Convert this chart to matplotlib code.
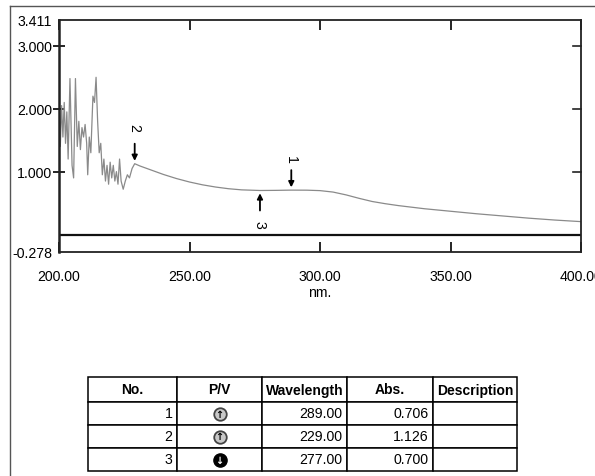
import matplotlib
matplotlib.use("Agg")
import matplotlib.pyplot as plt
from matplotlib import font_manager
from matplotlib.lines import Line2D

# scan 200-400 nm, noisy part below ~229 nm
wavelength = [200.0, 200.5, 201.0, 201.5, 202.0, 202.5, 203.0, 203.5, 204.2, 205.0,
              205.6, 206.3, 207.0, 207.6, 208.2, 208.8, 209.4, 210.0, 210.6, 211.0,
              211.6, 212.2, 213.0, 213.6, 214.2, 214.8, 215.4, 216.0, 216.6, 217.2,
              217.8, 218.4, 219.0, 219.6, 220.2, 220.8, 221.4, 222.0, 222.6, 223.2,
              223.8, 224.6, 225.4, 226.2, 227.0, 228.0, 229.0,
              231.0, 235.0, 240.0, 245.0, 250.0, 255.0, 260.0, 265.0, 270.0, 277.0,
              283.0, 289.0, 295.0, 300.0, 305.0, 310.0, 315.0, 320.0, 325.0, 330.0,
              335.0, 340.0, 345.0, 350.0, 360.0, 370.0, 380.0, 390.0, 400.0]
absorbance = [2.40, 1.40, 2.05, 1.55, 2.10, 1.45, 1.95, 1.20, 2.48, 1.10,
              0.90, 2.48, 1.40, 1.80, 1.35, 1.70, 1.55, 1.75, 1.45, 0.95,
              1.55, 1.30, 2.20, 2.10, 2.50, 1.80, 1.30, 1.45, 0.95, 1.20,
              0.85, 1.10, 0.80, 1.15, 0.90, 1.10, 0.85, 1.00, 0.80, 1.20,
              0.85, 0.72, 0.85, 0.95, 0.90, 1.05, 1.126,
              1.09, 1.03, 0.955, 0.89, 0.835, 0.79, 0.755, 0.728, 0.71, 0.700,
              0.702, 0.706, 0.705, 0.698, 0.675, 0.63, 0.575, 0.525, 0.49, 0.46,
              0.435, 0.41, 0.39, 0.37, 0.33, 0.295, 0.26, 0.23, 0.205]

# picked peaks / valleys
peak_no = [1, 2, 3]
peak_type = ["P", "P", "V"]
peak_wl = [289.00, 229.00, 277.00]
peak_abs = [0.706, 1.126, 0.700]

x_ticks = [200, 250, 300, 350, 400]
y_ticks = [-0.278, 1.0, 2.0, 3.0, 3.411]
y_labels = ["-0.278", "1.000", "2.000", "3.000", "3.411"]

table_cols = ["No.", "P/V", "Wavelength", "Abs.", "Description"]

names = {f.name for f in font_manager.fontManager.ttflist}
if "Liberation Sans Narrow" in names:
    FONT, k = "Liberation Sans Narrow", 1.0
else:
    FONT, k = "Liberation Sans", 0.85
plt.rcParams["font.family"] = [FONT, "DejaVu Sans"]

W, H = 595, 477
fig = plt.figure(figsize=(W / 100, H / 100), dpi=100)

# thin frame round the page
fig.add_artist(Line2D([10 / W, 10 / W], [0, 1 - 7 / H], transform=fig.transFigure, color="#555555", lw=1))
fig.add_artist(Line2D([10 / W, 1], [1 - 7 / H, 1 - 7 / H], transform=fig.transFigure, color="#555555", lw=1))

ax = fig.add_axes([59 / W, 1 - 253 / H, (581 - 59) / W, (253 - 21) / H])
ax.plot(wavelength, absorbance, color="#8a8a8a", lw=0.9)
ax.axhline(0, color="#111111", lw=1.6)
ax.set_xlim(200, 400)
ax.set_ylim(-0.278, 3.411)

ax.set_xticks(x_ticks)
ax.set_xticklabels(["%.2f" % v for v in x_ticks])
ax.set_yticks(y_ticks)
ax.set_yticklabels(y_labels)
ax.tick_params(axis="x", direction="in", top=True, length=7, width=1.2, pad=12, labelsize=12 * k)
ax.tick_params(axis="y", direction="inout", right=False, length=8, width=1.2, pad=1, labelsize=12 * k)
# no tick marks at the range ends, only the labels
for t in (ax.yaxis.get_major_ticks()[0], ax.yaxis.get_major_ticks()[-1]):
    t.tick1line.set_visible(False)
for v in y_ticks[1:-1]:
    ax.plot([1, 0.985], [v, v], color="#222222", lw=1.2, transform=ax.get_yaxis_transform(), clip_on=False)
ax.set_xlabel("nm.", fontsize=12 * k, labelpad=2)
for s in ax.spines.values():
    s.set_color("#222222")
    s.set_linewidth(1.3)
ax.spines["left"].set_linewidth(1.8)

# peak / valley markers
for no, kind, wl, ab in zip(peak_no, peak_type, peak_wl, peak_abs):
    sgn = 1 if kind == "P" else -1
    lab = {1: 31, 2: 37, 3: 33}[no]
    ax.annotate("", xy=(wl, ab), xytext=(0, sgn * 20), textcoords="offset pixels",
                arrowprops=dict(arrowstyle="-|>", color="black", lw=1.3,
                                shrinkA=0, shrinkB=2, mutation_scale=8))
    ax.annotate(str(no), xy=(wl, ab), xytext=(0, sgn * lab), textcoords="offset pixels",
                rotation=-90, ha="center", va="center", fontsize=12 * k)

# results table
tx = fig.add_axes([88 / W, 1 - 472 / H, (517 - 88) / W, 94 / H])
tx.set_xlim(0, 1)
tx.set_ylim(0, 1)
tx.axis("off")
col_w = [89, 85, 85, 86, 84]
col_frac = [c / sum(col_w) for c in col_w]
rows = [[str(n), "", "%.2f" % w, "%.3f" % a, ""] for n, w, a in zip(peak_no, peak_wl, peak_abs)]
tab = tx.table(cellText=rows, colLabels=table_cols, colWidths=col_frac,
               cellLoc="right", colLoc="center", bbox=[0, 0, 1, 1])
tab.auto_set_font_size(False)
row_h = [25, 23, 23, 23]
for (r, c), cell in tab.get_celld().items():
    cell.set_height(row_h[r])
    cell.set_edgecolor("black")
    cell.set_linewidth(1.1)
    cell.PAD = 0.05
    if r == 0:
        cell.set_text_props(fontsize=11.8 * k, fontweight="bold")
    else:
        cell.set_text_props(fontsize=12 * k)

# P/V icons
icon_x = (col_w[0] + col_w[1] / 2) / sum(col_w)
top = sum(row_h)
for i, kind in enumerate(peak_type):
    yc = (top - sum(row_h[:i + 1]) - row_h[i + 1] / 2) / top
    if kind == "P":
        tx.plot(icon_x, yc, "o", ms=9, mfc="#c8c8c8", mec="#444444", mew=1.3)
        tx.text(icon_x, yc, "\u2191", ha="center", va="center", fontsize=7,
                color="black", family="DejaVu Sans", fontweight="bold")
    else:
        tx.plot(icon_x, yc, "o", ms=9.5, mfc="black", mec="black")
        tx.text(icon_x, yc, "\u2193", ha="center", va="center", fontsize=7,
                color="white", family="DejaVu Sans", fontweight="bold")

fig.savefig("out.png", dpi=100)
